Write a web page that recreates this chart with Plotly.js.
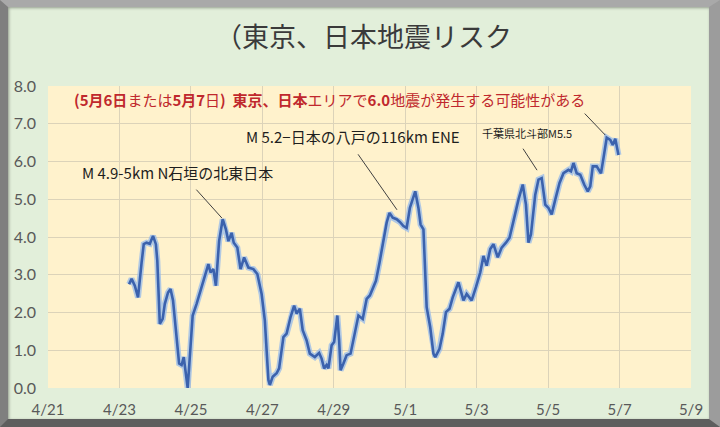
<!DOCTYPE html>
<html>
<head>
<meta charset="utf-8">
<script src="https://cdn.plot.ly/plotly-3.0.1.min.js"></script>
<style>
  html, body { margin:0; padding:0; background:#e2efda; }
  #wrap { position:relative; width:720px; height:427px; overflow:hidden; }
  #chart { position:absolute; left:0; top:0; width:720px; height:427px; }
  #frame { position:absolute; left:0; top:0; width:720px; height:427px; box-sizing:border-box;
    border-style:solid; border-width:7px 11px 8px 8px;
    border-color:#a9a9a9 #9c9c9c #5e5e5e #7f7f7f;
    box-shadow: inset 1px 1px 3px rgba(0,0,0,0.35);
    pointer-events:none; }
</style>
</head>
<body>
<div id="wrap"><div id="chart"></div><div id="frame"></div></div>
<script>
// Days after 4/21 (x) and risk values (y)
const dayOffsets = [2.27,2.34,2.43,2.52,2.62,2.68,2.76,2.85,2.94,3.02,3.06,3.13,3.21,3.27,3.36,3.43,3.50,3.60,3.67,3.74,
  3.80,3.91,3.97,4.05,4.16,4.25,4.39,4.49,4.55,4.63,4.70,4.79,4.89,4.98,5.05,5.14,5.20,5.30,5.39,5.49,
  5.61,5.75,5.86,5.98,6.07,6.12,6.17,6.21,6.29,6.40,6.47,6.59,6.68,6.79,6.89,6.96,7.05,7.13,7.24,7.33,
  7.47,7.59,7.66,7.73,7.80,7.85,7.94,8.01,8.10,8.15,8.19,8.27,8.36,8.47,8.59,8.69,8.81,8.92,9.01,9.13,
  9.18,9.28,9.39,9.48,9.56,9.65,9.76,9.85,9.95,10.04,10.13,10.28,10.37,10.43,10.51,10.60,10.70,10.79,10.84,10.96,
  11.05,11.14,11.24,11.33,11.49,11.63,11.72,11.86,11.98,12.10,12.19,12.28,12.38,12.47,12.59,12.70,12.82,12.92,13.03,13.17,
  13.29,13.38,13.45,13.52,13.64,13.73,13.82,13.92,14.01,14.10,14.20,14.32,14.43,14.57,14.64,14.71,14.80,14.90,15.01,15.11,
  15.18,15.25,15.36,15.48,15.55,15.64,15.74,15.81,15.88,15.97];
const riskValues = [2.75,2.89,2.71,2.40,3.32,3.81,3.85,3.82,4.03,3.81,3.37,1.70,1.83,2.23,2.53,2.62,2.32,1.26,0.65,0.61,
  0.82,0.00,0.96,1.92,2.23,2.53,2.97,3.28,3.06,3.15,2.71,3.89,4.47,4.20,3.89,4.11,3.85,3.72,3.15,3.46,
  3.19,3.15,3.02,2.49,1.79,1.00,0.21,0.08,0.30,0.39,0.52,1.35,1.44,1.88,2.18,1.97,2.10,1.53,1.26,0.91,
  0.82,0.93,0.78,0.52,0.61,0.52,1.13,1.22,1.92,1.26,0.47,0.65,0.87,0.91,1.44,1.92,1.83,2.36,2.45,2.75,
  2.84,3.32,3.89,4.38,4.64,4.51,4.47,4.40,4.29,4.24,4.77,5.21,4.77,4.33,4.20,2.14,1.61,0.91,0.82,1.04,
  1.44,2.01,2.10,2.40,2.80,2.32,2.49,2.32,2.67,3.06,3.50,3.24,3.68,3.81,3.46,3.72,3.85,3.98,4.42,4.99,
  5.39,4.86,3.85,4.07,5.12,5.52,5.56,4.86,4.77,4.60,4.99,5.43,5.69,5.78,5.74,5.96,5.69,5.65,5.39,5.21,
  5.34,5.87,5.87,5.69,6.09,6.63,6.57,6.44,6.60,6.17];
const tickDays = [0,2,4,6,8,10,12,14,16,18];
const tickLabels = ['4/21','4/23','4/25','4/27','4/29','5/1','5/3','5/5','5/7','5/9'];

const titleText = '（東京、日本地震リスク';
const headline = '<b>(5月6日</b>または<b>5月7</b>日<b>)  東京、日本</b>エリアで<b>6.0</b>地震が発生する可能性がある';
const note1 = 'M 5.2−日本の八戸の116km ENE';
const note2 = 'M 4.9-5km N石垣の北東日本';
const note3 = '千葉県北斗部M5.5';

const cjk = "'Noto Sans CJK JP', 'Noto Sans', sans-serif";
const tickFont = "Lato, 'Noto Sans', sans-serif";

const traces = [
  { x: dayOffsets, y: riskValues, type:'scatter', mode:'lines',
    line:{color:'rgba(150,185,235,0.75)', width:6}, hoverinfo:'skip', showlegend:false },
  { x: dayOffsets, y: riskValues, type:'scatter', mode:'lines',
    line:{color:'#3b62ad', width:2.6}, showlegend:false }
];

const layout = {
  width:720, height:427,
  margin:{l:48, r:29, t:86, b:39},
  paper_bgcolor:'#e2efda', plot_bgcolor:'#fff2cc',
  title:{text:titleText, font:{family:cjk, size:27, color:'#3a3a3a'},
    x:0.505, xref:'container', y:0.913, yref:'container', yanchor:'middle'},
  xaxis:{range:[0,18], tickvals:tickDays, ticktext:tickLabels, showgrid:true,
    gridcolor:'#dcd3b9', gridwidth:1, zeroline:false, showline:false, ticks:'',
    ticklabelstandoff:11, tickfont:{family:tickFont, size:15, color:'#595959'}},
  yaxis:{range:[0,8], dtick:1, tick0:0, tickformat:'.1f', showgrid:true,
    gridcolor:'#dcd3b9', gridwidth:1, zeroline:false, showline:false, ticks:'',
    ticklabelstandoff:11, tickfont:{family:tickFont, size:16, color:'#595959'}},
  annotations:[
    {xref:'x', yref:'y', x:0.67, y:7.63, xanchor:'left', yanchor:'middle', showarrow:false,
      text:headline, font:{family:cjk, size:15, color:'#c0282d'}},
    {xref:'x', yref:'y', x:5.49, y:6.65, xanchor:'left', yanchor:'middle', showarrow:false,
      text:note1, font:{family:cjk, size:15, color:'#1e1e1e'}},
    {xref:'x', yref:'y', x:0.90, y:5.72, xanchor:'left', yanchor:'middle', showarrow:false,
      text:note2, font:{family:cjk, size:15, color:'#1e1e1e'}},
    {xref:'x', yref:'y', x:12.09, y:6.75, xanchor:'left', yanchor:'middle', showarrow:false,
      text:note3, font:{family:cjk, size:11, color:'#1e1e1e'}},
    {xref:'x', yref:'y', x:15.60, y:6.70, text:'', showarrow:true, arrowhead:0, arrowwidth:1, arrowcolor:'#404040', ax:-22, ay:-23, standoff:0},
    {xref:'x', yref:'y', x:9.77, y:4.72, text:'', showarrow:true, arrowhead:0, arrowwidth:1, arrowcolor:'#404040', ax:-40, ay:-57, standoff:0},
    {xref:'x', yref:'y', x:4.87, y:4.50, text:'', showarrow:true, arrowhead:0, arrowwidth:1, arrowcolor:'#404040', ax:-27, ay:-30, standoff:0},
    {xref:'x', yref:'y', x:13.69, y:5.77, text:'', showarrow:true, arrowhead:0, arrowwidth:1, arrowcolor:'#404040', ax:-15, ay:-23, standoff:0}
  ]
};
Plotly.newPlot('chart', traces, layout, {displayModeBar:false, staticPlot:true});
</script>
</body>
</html>
